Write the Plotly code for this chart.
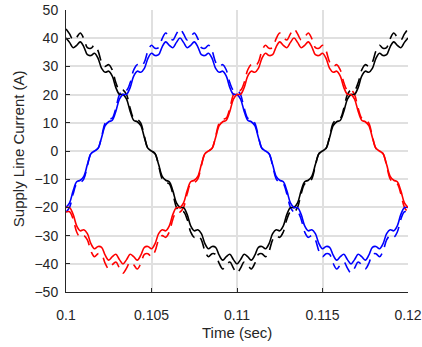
import plotly.graph_objects as go

# Time samples (sec)
time_s = [0.100000, 0.100208, 0.100417, 0.100625, 0.100833, 0.101042, 0.101250, 0.101458,
          0.101667, 0.101875, 0.102083, 0.102292, 0.102500, 0.102708, 0.102917, 0.103125,
          0.103333, 0.103542, 0.103750, 0.103958, 0.104167, 0.104375, 0.104583, 0.104792,
          0.105000, 0.105208, 0.105417, 0.105625, 0.105833, 0.106042, 0.106250, 0.106458,
          0.106667, 0.106875, 0.107083, 0.107292, 0.107500, 0.107708, 0.107917, 0.108125,
          0.108333, 0.108542, 0.108750, 0.108958, 0.109167, 0.109375, 0.109583, 0.109792,
          0.110000, 0.110208, 0.110417, 0.110625, 0.110833, 0.111042, 0.111250, 0.111458,
          0.111667, 0.111875, 0.112083, 0.112292, 0.112500, 0.112708, 0.112917, 0.113125,
          0.113333, 0.113542, 0.113750, 0.113958, 0.114167, 0.114375, 0.114583, 0.114792,
          0.115000, 0.115208, 0.115417, 0.115625, 0.115833, 0.116042, 0.116250, 0.116458,
          0.116667, 0.116875, 0.117083, 0.117292, 0.117500, 0.117708, 0.117917, 0.118125,
          0.118333, 0.118542, 0.118750, 0.118958, 0.119167, 0.119375, 0.119583, 0.119792,
          0.120000]

# Solid-line currents (A)
black_solid = [40.05, 38.52, 36.63, 37.46, 38.69, 36.95, 34.14, 33.84, 34.68, 32.87, 29.31, 27.92,
               28.32, 26.55, 22.49, 20.10, 20.03, 18.42, 14.14, 10.91, 10.37, 9.03, 4.82, 0.97,
               0.00, -0.97, -4.82, -9.03, -10.37, -10.91, -14.14, -18.42, -20.03, -20.10, -22.49, -26.55,
               -28.32, -27.92, -29.31, -32.87, -34.68, -33.84, -34.14, -36.95, -38.69, -37.46, -36.63, -38.52,
               -40.05, -38.52, -36.63, -37.46, -38.69, -36.95, -34.14, -33.84, -34.68, -32.87, -29.31, -27.92,
               -28.32, -26.55, -22.49, -20.10, -20.03, -18.42, -14.14, -10.91, -10.37, -9.03, -4.82, -0.97,
               0.00, 0.97, 4.82, 9.03, 10.37, 10.91, 14.14, 18.42, 20.03, 20.10, 22.49, 26.55,
               28.32, 27.92, 29.31, 32.87, 34.68, 33.84, 34.14, 36.95, 38.69, 37.46, 36.63, 38.52,
               40.05]
blue_solid = [-20.03, -18.42, -14.14, -10.91, -10.37, -9.03, -4.82, -0.97, 0.00, 0.97, 4.82, 9.03,
              10.37, 10.91, 14.14, 18.42, 20.03, 20.10, 22.49, 26.55, 28.32, 27.92, 29.31, 32.87,
              34.68, 33.84, 34.14, 36.95, 38.69, 37.46, 36.63, 38.52, 40.05, 38.52, 36.63, 37.46,
              38.69, 36.95, 34.14, 33.84, 34.68, 32.87, 29.31, 27.92, 28.32, 26.55, 22.49, 20.10,
              20.03, 18.42, 14.14, 10.91, 10.37, 9.03, 4.82, 0.97, 0.00, -0.97, -4.82, -9.03,
              -10.37, -10.91, -14.14, -18.42, -20.03, -20.10, -22.49, -26.55, -28.32, -27.92, -29.31, -32.87,
              -34.68, -33.84, -34.14, -36.95, -38.69, -37.46, -36.63, -38.52, -40.05, -38.52, -36.63, -37.46,
              -38.69, -36.95, -34.14, -33.84, -34.68, -32.87, -29.31, -27.92, -28.32, -26.55, -22.49, -20.10,
              -20.03]
red_solid = [-20.03, -20.10, -22.49, -26.55, -28.32, -27.92, -29.31, -32.87, -34.68, -33.84, -34.14, -36.95,
             -38.69, -37.46, -36.63, -38.52, -40.05, -38.52, -36.63, -37.46, -38.69, -36.95, -34.14, -33.84,
             -34.68, -32.87, -29.31, -27.92, -28.32, -26.55, -22.49, -20.10, -20.03, -18.42, -14.14, -10.91,
             -10.37, -9.03, -4.82, -0.97, 0.00, 0.97, 4.82, 9.03, 10.37, 10.91, 14.14, 18.42,
             20.03, 20.10, 22.49, 26.55, 28.32, 27.92, 29.31, 32.87, 34.68, 33.84, 34.14, 36.95,
             38.69, 37.46, 36.63, 38.52, 40.05, 38.52, 36.63, 37.46, 38.69, 36.95, 34.14, 33.84,
             34.68, 32.87, 29.31, 27.92, 28.32, 26.55, 22.49, 20.10, 20.03, 18.42, 14.14, 10.91,
             10.37, 9.03, 4.82, 0.97, 0.00, -0.97, -4.82, -9.03, -10.37, -10.91, -14.14, -18.42,
             -20.03]

# Dashed-line currents (A)
black_dash = [43.30, 41.53, 39.36, 40.35, 41.83, 39.88, 36.68, 36.42, 37.50, 35.51, 31.50, 30.01,
              30.62, 28.72, 24.17, 21.56, 21.65, 19.97, 15.19, 11.64, 11.21, 9.86, 5.18, 0.92,
              0.00, -0.92, -5.18, -9.86, -11.21, -11.64, -15.19, -19.97, -21.65, -21.56, -24.17, -28.72,
              -30.62, -30.01, -31.50, -35.51, -37.50, -36.42, -36.68, -39.88, -41.83, -40.35, -39.36, -41.53,
              -43.30, -41.53, -39.36, -40.35, -41.83, -39.88, -36.68, -36.42, -37.50, -35.51, -31.50, -30.01,
              -30.62, -28.72, -24.17, -21.56, -21.65, -19.97, -15.19, -11.64, -11.21, -9.86, -5.18, -0.92,
              0.00, 0.92, 5.18, 9.86, 11.21, 11.64, 15.19, 19.97, 21.65, 21.56, 24.17, 28.72,
              30.62, 30.01, 31.50, 35.51, 37.50, 36.42, 36.68, 39.88, 41.83, 40.35, 39.36, 41.53,
              43.30]
blue_dash = [-21.65, -19.97, -15.19, -11.64, -11.21, -9.86, -5.18, -0.92, 0.00, 0.92, 5.18, 9.86,
             11.21, 11.64, 15.19, 19.97, 21.65, 21.56, 24.17, 28.72, 30.62, 30.01, 31.50, 35.51,
             37.50, 36.42, 36.68, 39.88, 41.83, 40.35, 39.36, 41.53, 43.30, 41.53, 39.36, 40.35,
             41.83, 39.88, 36.68, 36.42, 37.50, 35.51, 31.50, 30.01, 30.62, 28.72, 24.17, 21.56,
             21.65, 19.97, 15.19, 11.64, 11.21, 9.86, 5.18, 0.92, 0.00, -0.92, -5.18, -9.86,
             -11.21, -11.64, -15.19, -19.97, -21.65, -21.56, -24.17, -28.72, -30.62, -30.01, -31.50, -35.51,
             -37.50, -36.42, -36.68, -39.88, -41.83, -40.35, -39.36, -41.53, -43.30, -41.53, -39.36, -40.35,
             -41.83, -39.88, -36.68, -36.42, -37.50, -35.51, -31.50, -30.01, -30.62, -28.72, -24.17, -21.56,
             -21.65]
red_dash = [-21.65, -21.56, -24.17, -28.72, -30.62, -30.01, -31.50, -35.51, -37.50, -36.42, -36.68, -39.88,
            -41.83, -40.35, -39.36, -41.53, -43.30, -41.53, -39.36, -40.35, -41.83, -39.88, -36.68, -36.42,
            -37.50, -35.51, -31.50, -30.01, -30.62, -28.72, -24.17, -21.56, -21.65, -19.97, -15.19, -11.64,
            -11.21, -9.86, -5.18, -0.92, 0.00, 0.92, 5.18, 9.86, 11.21, 11.64, 15.19, 19.97,
            21.65, 21.56, 24.17, 28.72, 30.62, 30.01, 31.50, 35.51, 37.50, 36.42, 36.68, 39.88,
            41.83, 40.35, 39.36, 41.53, 43.30, 41.53, 39.36, 40.35, 41.83, 39.88, 36.68, 36.42,
            37.50, 35.51, 31.50, 30.01, 30.62, 28.72, 24.17, 21.56, 21.65, 19.97, 15.19, 11.64,
            11.21, 9.86, 5.18, 0.92, 0.00, -0.92, -5.18, -9.86, -11.21, -11.64, -15.19, -19.97,
            -21.65]

x_ticks = [0.1, 0.105, 0.11, 0.115, 0.12]
x_tick_labels = ["0.1", "0.105", "0.11", "0.115", "0.12"]
y_ticks = [-50, -40, -30, -20, -10, 0, 10, 20, 30, 40, 50]

fig = go.Figure()
series = [
    (black_dash, "#000000", "11px,7px"),
    (blue_dash, "#0000ff", "11px,7px"),
    (red_dash, "#ff0000", "11px,7px"),
    (black_solid, "#000000", "solid"),
    (blue_solid, "#0000ff", "solid"),
    (red_solid, "#ff0000", "solid"),
]
for ys, col, dash in series:
    fig.add_trace(go.Scatter(x=time_s, y=ys, mode="lines",
                             line=dict(color=col, width=1.6, dash=dash, shape="spline", smoothing=1.0),
                             showlegend=False, hoverinfo="skip"))

font_family = "Liberation Sans, Arial, Helvetica, sans-serif"
fig.update_layout(
    width=422, height=347,
    margin=dict(l=66, r=14, t=10, b=55),
    paper_bgcolor="white", plot_bgcolor="white",
    font=dict(family=font_family, size=14, color="#262626"),
    annotations=[
        dict(text="Time (sec)", xref="paper", yref="paper", x=0.5, y=-0.142,
             xanchor="center", yanchor="middle", showarrow=False,
             font=dict(size=15, color="#262626")),
        dict(text="Supply Line Current (A)", xref="paper", yref="paper", x=-0.1404, y=0.51,
             xanchor="center", yanchor="middle", showarrow=False, textangle=-90,
             font=dict(size=15, color="#262626")),
    ],
)
fig.update_xaxes(range=[0.1, 0.12], tickvals=x_ticks, ticktext=x_tick_labels,
                 showgrid=True, gridcolor="#e0e0e0", gridwidth=1.5, zeroline=False,
                 showline=True, linecolor="#262626", linewidth=1,
                 ticks="inside", ticklen=4, tickcolor="#262626",
                 ticklabelstandoff=10, automargin=False)
fig.update_yaxes(range=[-50, 50], tickvals=y_ticks,
                 showgrid=True, gridcolor="#e0e0e0", gridwidth=1.5, zeroline=False,
                 showline=True, linecolor="#262626", linewidth=1,
                 ticks="inside", ticklen=4, tickcolor="#262626",
                 ticklabelstandoff=4, automargin=False)

fig.write_html("out.html")
